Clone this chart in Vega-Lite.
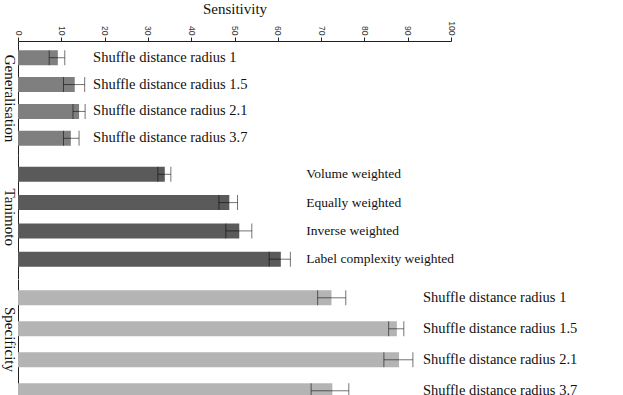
{
  "$schema": "https://vega.github.io/schema/vega-lite/v6.json",
  "background": "white",
  "padding": {"left": 1, "top": 1, "right": 5, "bottom": 0},
  "config": {"view": {"stroke": null}, "font": "Liberation Serif",
    "text": {"font": "Liberation Serif"}},
  "data": {"values": [
    {"group": "Generalisation", "item": "g1", "label": "Shuffle distance radius 1", "value": 9.2, "lower": 7.2, "upper": 10.8},
    {"group": "Generalisation", "item": "g2", "label": "Shuffle distance radius 1.5", "value": 13.1, "lower": 10.5, "upper": 15.4},
    {"group": "Generalisation", "item": "g3", "label": "Shuffle distance radius 2.1", "value": 14.1, "lower": 12.7, "upper": 15.5},
    {"group": "Generalisation", "item": "g4", "label": "Shuffle distance radius 3.7", "value": 12.2, "lower": 10.5, "upper": 14.1},
    {"group": "Tanimoto", "item": "t1", "label": "Volume weighted", "value": 33.9, "lower": 32.3, "upper": 35.3},
    {"group": "Tanimoto", "item": "t2", "label": "Equally weighted", "value": 48.8, "lower": 46.4, "upper": 50.7},
    {"group": "Tanimoto", "item": "t3", "label": "Inverse weighted", "value": 51.1, "lower": 48.0, "upper": 54.0},
    {"group": "Tanimoto", "item": "t4", "label": "Label complexity weighted", "value": 60.7, "lower": 58.0, "upper": 62.9},
    {"group": "Specificity", "item": "s1", "label": "Shuffle distance radius 1", "value": 72.4, "lower": 69.2, "upper": 75.7},
    {"group": "Specificity", "item": "s2", "label": "Shuffle distance radius 1.5", "value": 87.5, "lower": 85.6, "upper": 89.1},
    {"group": "Specificity", "item": "s3", "label": "Shuffle distance radius 2.1", "value": 88.0, "lower": 84.5, "upper": 91.2},
    {"group": "Specificity", "item": "s4", "label": "Shuffle distance radius 3.7", "value": 72.6, "lower": 67.7, "upper": 76.4}
  ]},
  "spacing": 0,
  "resolve": {"scale": {"y": "independent"}},
  "vconcat": [
    {
      "width": 433, "height": 114,
      "transform": [{"filter": "datum.group === 'Generalisation'"}, {"joinaggregate": [{"op": "max", "field": "upper", "as": "maxu"}]}],
      "encoding": {"y": {"field": "item", "type": "nominal", "sort": null,
        "scale": {"paddingInner": 0.44, "paddingOuter": 0.343},
        "axis": {"title": "Generalisation", "titleAngle": 90, "titleBaseline": "top", "titleFont": "Liberation Serif", "titleFontSize": 15, "titleFontWeight": "normal", "titleColor": "#111", "titlePadding": 2, "labels": false, "ticks": false, "domainColor": "#222"}}},
      "layer": [
        {"mark": {"type": "bar", "color": "#7f7f7f"},
         "encoding": {"x": {"field": "value", "type": "quantitative", "scale": {"domain": [0, 100]},
           "axis": {"orient": "top", "title": "Sensitivity", "titleFont": "Liberation Serif", "titleFontSize": 15, "titleFontWeight": "normal", "titleColor": "#111", "titlePadding": 4,
             "values": [0, 10, 20, 30, 40, 50, 60, 70, 80, 90, 100], "labelAngle": 90, "labelFont": "Liberation Sans", "labelFontSize": 8.5, "labelColor": "#333", "labelPadding": 2,
             "tickSize": 4, "tickColor": "#222", "domainColor": "#222", "grid": false}}}},
        {"mark": {"type": "rule", "color": "black", "opacity": 0.55}, "encoding": {"x": {"field": "lower", "type": "quantitative"}, "x2": {"field": "upper"}}},
        {"mark": {"type": "tick", "color": "black", "opacity": 0.55, "thickness": 1, "size": 15}, "encoding": {"x": {"field": "lower", "type": "quantitative"}}},
        {"mark": {"type": "tick", "color": "black", "opacity": 0.55, "thickness": 1, "size": 15}, "encoding": {"x": {"field": "upper", "type": "quantitative"}}},
        {"mark": {"type": "text", "align": "left", "baseline": "middle", "dx": 8, "font": "Liberation Serif", "fontSize": 14.5, "color": "#111"},
         "encoding": {"x": {"field": "maxu", "type": "quantitative"}, "text": {"field": "label"}}}
      ]
    },
    {
      "width": 433, "height": 123.5,
      "transform": [{"filter": "datum.group === 'Tanimoto'"}, {"joinaggregate": [{"op": "max", "field": "upper", "as": "maxu"}]}],
      "encoding": {"y": {"field": "item", "type": "nominal", "sort": null,
        "scale": {"paddingInner": 0.47, "paddingOuter": 0.417},
        "axis": {"title": "Tanimoto", "titleAngle": 90, "titleBaseline": "top", "titleFont": "Liberation Serif", "titleFontSize": 15, "titleFontWeight": "normal", "titleColor": "#111", "titlePadding": 2, "labels": false, "ticks": false, "domainColor": "#222"}}},
      "layer": [
        {"mark": {"type": "bar", "color": "#5a5a5a"},
         "encoding": {"x": {"field": "value", "type": "quantitative", "scale": {"domain": [0, 100]}, "axis": null}}},
        {"mark": {"type": "rule", "color": "black", "opacity": 0.55}, "encoding": {"x": {"field": "lower", "type": "quantitative", "axis": null}, "x2": {"field": "upper"}}},
        {"mark": {"type": "tick", "color": "black", "opacity": 0.55, "thickness": 1, "size": 15}, "encoding": {"x": {"field": "lower", "type": "quantitative", "axis": null}}},
        {"mark": {"type": "tick", "color": "black", "opacity": 0.55, "thickness": 1, "size": 15}, "encoding": {"x": {"field": "upper", "type": "quantitative", "axis": null}}},
        {"mark": {"type": "text", "align": "left", "baseline": "middle", "dx": 16, "font": "Liberation Serif", "fontSize": 13.5, "color": "#111"},
         "encoding": {"x": {"field": "maxu", "type": "quantitative", "axis": null}, "text": {"field": "label"}}}
      ]
    },
    {
      "width": 433, "height": 130.6,
      "transform": [{"filter": "datum.group === 'Specificity'"}, {"joinaggregate": [{"op": "max", "field": "upper", "as": "maxu"}]}],
      "encoding": {"y": {"field": "item", "type": "nominal", "sort": null,
        "scale": {"paddingInner": 0.516, "paddingOuter": 0.365},
        "axis": {"title": "Specificity", "titleAngle": 90, "titleBaseline": "top", "titleY": 60, "titleFont": "Liberation Serif", "titleFontSize": 15, "titleFontWeight": "normal", "titleColor": "#111", "titlePadding": 2, "labels": false, "ticks": false, "domainColor": "#222"}}},
      "layer": [
        {"mark": {"type": "bar", "color": "#b4b4b4"},
         "encoding": {"x": {"field": "value", "type": "quantitative", "scale": {"domain": [0, 100]}, "axis": null}}},
        {"mark": {"type": "rule", "color": "black", "opacity": 0.55}, "encoding": {"x": {"field": "lower", "type": "quantitative", "axis": null}, "x2": {"field": "upper"}}},
        {"mark": {"type": "tick", "color": "black", "opacity": 0.55, "thickness": 1, "size": 15}, "encoding": {"x": {"field": "lower", "type": "quantitative", "axis": null}}},
        {"mark": {"type": "tick", "color": "black", "opacity": 0.55, "thickness": 1, "size": 15}, "encoding": {"x": {"field": "upper", "type": "quantitative", "axis": null}}},
        {"mark": {"type": "text", "align": "left", "baseline": "middle", "dx": 10, "font": "Liberation Serif", "fontSize": 14.5, "color": "#111"},
         "encoding": {"x": {"field": "maxu", "type": "quantitative", "axis": null}, "text": {"field": "label"}}}
      ]
    }
  ]
}
